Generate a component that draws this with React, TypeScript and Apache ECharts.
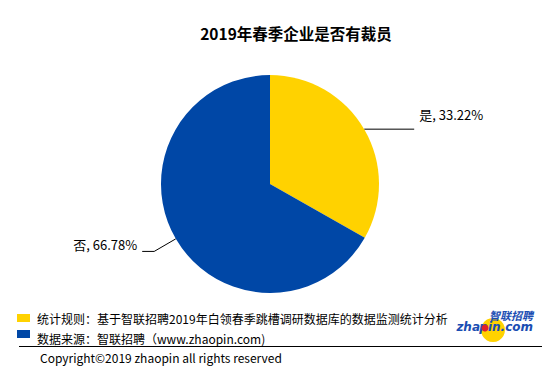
import React, { useEffect, useRef } from "react";
import * as echarts from "echarts";

const titleText = "2019年春季企业是否有裁员";
const categories = ["是", "否"];
const values = [33.22, 66.78];
const colors = ["#FFD200", "#0047A6"];
const noteLines = [
  "统计规则：基于智联招聘2019年白领春季跳槽调研数据库的数据监测统计分析",
  "数据来源：智联招聘（www.zhaopin.com)",
];
const copyright = "Copyright©2019 zhaopin all rights reserved";

const FONT = "'Noto Sans CJK SC', 'Noto Sans', sans-serif";

export default function App() {
  const ref = useRef<HTMLDivElement>(null);
  useEffect(() => {
    const chart = echarts.init(ref.current!, null, { renderer: "svg" });
    chart.setOption({
      animation: false,
      backgroundColor: "#fff",
      textStyle: { fontFamily: FONT },
      title: {
        text: titleText,
        left: 291,
        top: 20,
        textAlign: "center",
        textStyle: { fontSize: 15.5, fontWeight: "bold", color: "#000", fontFamily: FONT },
      },
      series: [
        {
          type: "pie",
          center: [270, 184],
          radius: [0, 109],
          startAngle: 90,
          clockwise: true,
          data: categories.map((c, i) => ({
            name: c,
            value: values[i],
            itemStyle: { color: colors[i] },
            labelLine: i === 0 ? { length: 0, length2: 50 } : { length: 25, length2: 12 },
          })),
          label: {
            show: true,
            formatter: (p: any) => {
              const t = `{t|${p.name}, ${values[p.dataIndex].toFixed(2)}%}`;
              return p.dataIndex === 0 ? `${t}\n{e| }\n{e| }` : `${t}\n{f| }`;
            },
            color: "#000",
            fontSize: 13,
            fontFamily: FONT,
            rich: {
              t: { fontSize: 13, lineHeight: 14, color: "#000", fontFamily: FONT },
              e: { fontSize: 13, lineHeight: 15 },
              f: { fontSize: 13, lineHeight: 14 },
            },
          },
          labelLine: { show: true, lineStyle: { color: "#000", width: 1 } },
        },
      ],
      graphic: [
        { type: "rect", shape: { x: 17, y: 314, width: 13, height: 8 }, style: { fill: colors[0] } },
        { type: "rect", shape: { x: 17, y: 330, width: 13, height: 8 }, style: { fill: colors[1] } },
        { type: "text", x: 37, y: 312, style: { text: noteLines[0], fontSize: 12, fill: "#000", fontFamily: FONT } },
        { type: "text", x: 37, y: 332, style: { text: noteLines[1], fontSize: 12, fill: "#000", fontFamily: FONT } },
        { type: "line", shape: { x1: 19, y1: 346.5, x2: 542, y2: 346.5 }, style: { stroke: "#000", lineWidth: 1 } },
        { type: "text", x: 40, y: 351, style: { text: copyright, fontSize: 12, fill: "#000", fontFamily: FONT } },
        { type: "circle", shape: { cx: 493, cy: 330, r: 12 }, style: { fill: "#FFD200" } },
        { type: "text", x: 489, y: 309, style: { text: "智联招聘", fontSize: 11, fontWeight: "bold", fontStyle: "italic", fill: "#1A4DB3", fontFamily: FONT } },
        { type: "text", x: 480, y: 321, style: { text: "zha", align: "right", fontSize: 12, fontWeight: "bold", fontStyle: "italic", fill: "#1A4DB3", fontFamily: "'DejaVu Sans', sans-serif" } },
        { type: "text", x: 533, y: 321, style: { text: "pin.com", align: "right", fontSize: 12, fontWeight: "bold", fontStyle: "italic", fill: "#1A4DB3", fontFamily: "'DejaVu Sans', sans-serif" } },
        { type: "circle", shape: { cx: 485, cy: 328, r: 3.5 }, style: { fill: "#E0202A" } },
      ],
    });
    return () => chart.dispose();
  }, []);
  return <div ref={ref} style={{ position: "fixed", left: 0, top: 0, width: 548, height: 368 }} />;
}
